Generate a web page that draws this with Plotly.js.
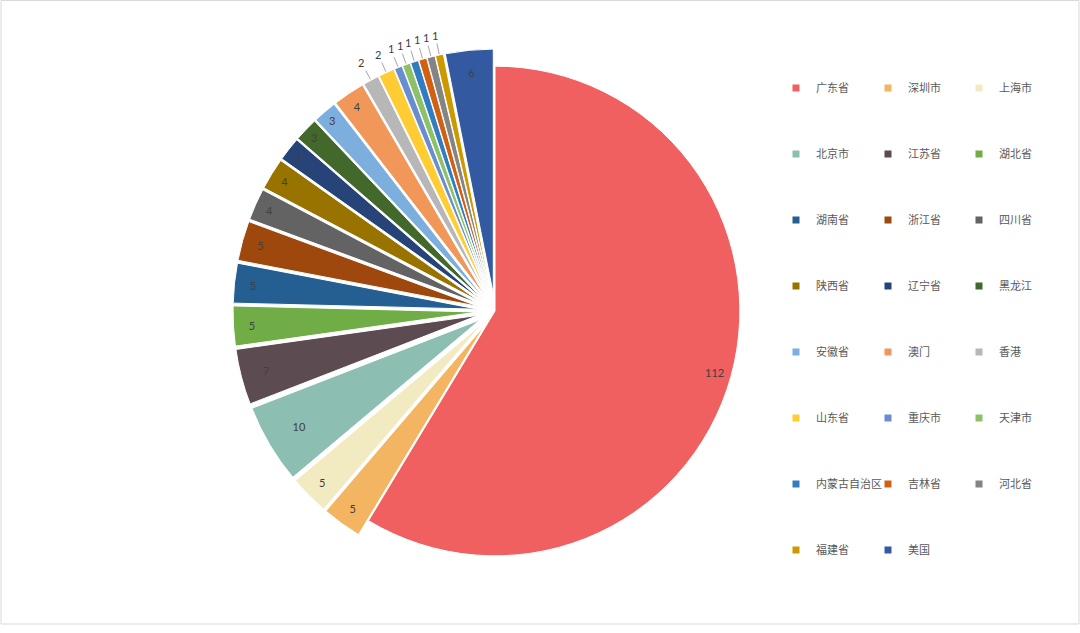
<!DOCTYPE html>
<html>
<head>
<meta charset="utf-8">
<script src="https://cdn.plot.ly/plotly-3.0.1.min.js"></script>
<style>html,body{margin:0;padding:0;background:#fff;}#chart{width:1080px;height:633px;}</style>
</head>
<body>
<div id="chart"></div>
<script>
// ---- data ----
var labels = ["广东省","深圳市","上海市","北京市","江苏省","湖北省","湖南省","浙江省","四川省","陕西省","辽宁省","黑龙江","安徽省","澳门","香港","山东省","重庆市","天津市","内蒙古自治区","吉林省","河北省","福建省","美国"];
var values = [112,5,5,10,7,5,5,5,4,4,3,3,3,4,2,2,1,1,1,1,1,1,6];
var colors = ["#F06060","#F3B562","#F2EBC2","#8CBEB2","#5C4B51","#70AD47","#255E91","#9E480E","#636363","#997300","#264478","#43682B","#7CAFDD","#F1975A","#B7B7B7","#FFCD33","#698ED0","#8CC168","#327DC2","#D26012","#848484","#CC9A00","#335AA1"];

// ---- layout settings ----
var W = 1080, H = 633;
var PULL = 0.07;
var domPx = {x0: 233, x1: 757, y0: 49, y1: 573};   // pie domain in page pixels
var labelFont = {family: 'Lato, "Liberation Sans", sans-serif', size: 11, color: '#404040'};

var pulls = values.map(function(v, i){ return i === 0 ? 0 : PULL; });
// Plotly draws the labels of the mid-size slices; the tiny slices and the big one get Excel-style callouts
var useCallout = values.map(function(v, i){ return v <= 2 || i === 0; });
var textpos = values.map(function(v, i){ return useCallout[i] ? 'none' : 'inside'; });

var traces = [{
  type: 'pie',
  labels: labels,
  values: values,
  sort: false,
  direction: 'clockwise',
  rotation: 0,
  pull: pulls,
  marker: {colors: colors, line: {color: '#ffffff', width: 1}},
  textinfo: 'value',
  textposition: textpos,
  insidetextorientation: 'horizontal',
  textfont: labelFont,
  showlegend: false,
  hoverinfo: 'label+value',
  domain: {x: [domPx.x0 / W, domPx.x1 / W], y: [1 - domPx.y1 / H, 1 - domPx.y0 / H]}
}];

// legend entries: one marker trace per category, arranged in 3 columns
var legendNames = ['legend', 'legend2', 'legend3'];
labels.forEach(function(lab, i){
  traces.push({
    type: 'scatter',
    mode: 'markers',
    x: [null], y: [null],
    name: lab,
    legend: legendNames[i % 3],
    legendgroup: 'g' + i,
    marker: {symbol: 'square', size: 7, color: colors[i], line: {width: 0}},
    hoverinfo: 'skip'
  });
});

// callout labels, placed along each slice's bisector using the pie's own geometry
var total = values.reduce(function(a, b){ return a + b; }, 0);
var cx = (domPx.x0 + domPx.x1) / 2, cy = (domPx.y0 + domPx.y1) / 2;
var r = Math.min(domPx.x1 - domPx.x0, domPx.y1 - domPx.y0) / 2 / (1 + PULL);
var annotations = [];
var cum = 0;
values.forEach(function(v, i){
  var mid = (cum + v / 2) / total * 2 * Math.PI;
  cum += v;
  if (!useCallout[i]) return;
  var dx = Math.sin(mid), dy = -Math.cos(mid);
  if (v > 2) {
    var rr = r * 0.93;
    annotations.push({
      xref: 'paper', yref: 'paper',
      x: (cx + dx * rr) / W, y: 1 - (cy + dy * rr) / H,
      text: String(v), showarrow: false, font: labelFont
    });
  } else {
    var re = r * (1 + pulls[i]) + 1;
    annotations.push({
      xref: 'paper', yref: 'paper',
      x: (cx + dx * re) / W, y: 1 - (cy + dy * re) / H,
      ax: dx * 19, ay: dy * 19,
      text: String(v), font: labelFont,
      showarrow: true, arrowhead: 0, arrowwidth: 1, arrowcolor: '#A6A6A6', standoff: 0
    });
  }
});

var legendBase = {
  orientation: 'v',
  xanchor: 'left',
  yanchor: 'top',
  y: 1 - 73.5 / H,
  traceorder: 'grouped',
  tracegroupgap: 47,
  bgcolor: 'rgba(0,0,0,0)',
  font: {family: '"Noto Sans CJK SC", sans-serif', size: 11, color: '#595959'}
};
function mkLegend(px){ var o = JSON.parse(JSON.stringify(legendBase)); o.x = px / W; return o; }

var layout = {
  width: W, height: H,
  margin: {l: 0, r: 0, t: 0, b: 0},
  paper_bgcolor: '#ffffff',
  plot_bgcolor: '#ffffff',
  xaxis: {visible: false},
  yaxis: {visible: false},
  legend: mkLegend(776),
  legend2: mkLegend(868),
  legend3: mkLegend(959),
  annotations: annotations,
  shapes: [{
    type: 'rect', xref: 'paper', yref: 'paper',
    x0: 1 / W, x1: 1079 / W, y0: 1 - 624 / H, y1: 1 - 0.5 / H,
    line: {color: '#D9D9D9', width: 1}, fillcolor: 'rgba(0,0,0,0)'
  }]
};

Plotly.newPlot('chart', traces, layout, {displayModeBar: false});
</script>
</body>
</html>
